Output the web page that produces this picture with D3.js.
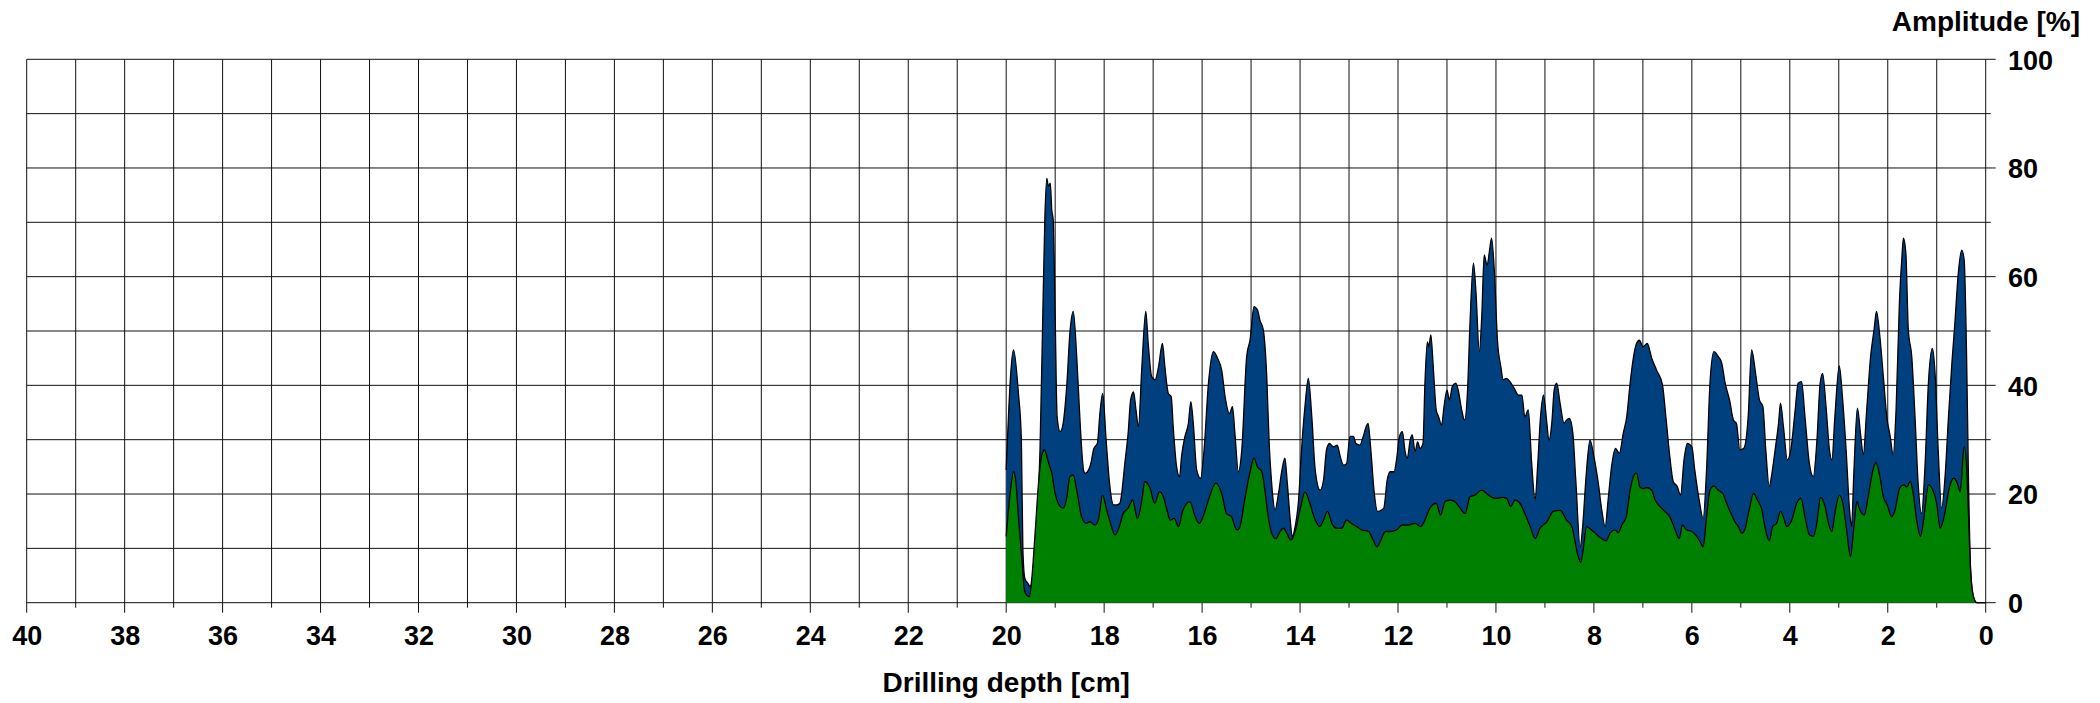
<!DOCTYPE html>
<html><head><meta charset="utf-8">
<script src="https://cdn.jsdelivr.net/npm/d3@7"></script>
<style>
html,body{margin:0;padding:0;background:#fff;}
svg{display:block;}
text{font-family:"Liberation Sans",Arial,sans-serif;font-weight:bold;fill:#000;}
</style>
</head><body>
<svg id="chart" width="2100" height="703"></svg>
<script>
// Total amplitude (blue)
const blueDepth = [20.00,19.85,19.75,19.69,19.66,19.62,19.56,19.51,19.45,19.38,19.31,19.26,19.21,19.17,19.14,19.10,19.07,19.04,19.00,18.96,18.90,18.85,18.76,18.70,18.63,18.56,18.49,18.42,18.39,18.32,18.27,18.21,18.14,18.08,18.03,17.96,17.89,17.81,17.74,17.68,17.57,17.51,17.46,17.40,17.35,17.30,17.23,17.15,17.10,17.03,16.96,16.89,16.81,16.76,16.69,16.63,16.59,16.52,16.46,16.42,16.35,16.28,16.23,16.18,16.11,16.03,15.96,15.87,15.77,15.67,15.60,15.53,15.44,15.38,15.33,15.26,15.19,15.09,15.02,
14.94,14.87,14.82,14.75,14.68,14.63,14.58,14.51,14.44,14.37,14.31,14.26,14.20,14.16,14.10,14.03,13.97,13.90,13.83,13.76,13.69,13.59,13.52,13.46,13.40,13.32,13.24,13.18,13.11,13.05,12.98,12.91,12.86,12.78,12.71,12.65,12.61,12.56,12.49,12.42,12.33,12.29,12.22,12.16,12.08,12.03,11.97,11.91,11.86,11.81,11.75,11.71,11.65,11.60,11.55,11.49,11.45,11.40,11.37,11.33,11.28,11.22,11.17,11.11,11.06,11.00,10.95,10.89,10.82,10.77,10.70,10.64,10.58,10.53,10.46,10.41,10.34,10.29,10.24,10.18,10.13,10.09,10.03,9.97,9.90,9.85,9.79,
9.63,9.54,9.47,9.41,9.34,9.27,9.20,9.15,9.09,9.03,8.96,8.92,8.86,8.81,8.76,8.69,8.61,8.56,8.50,8.43,8.37,8.28,8.23,8.16,8.08,8.00,7.91,7.84,7.77,7.71,7.64,7.56,7.48,7.40,7.33,7.26,7.19,7.13,7.07,7.00,6.91,6.82,6.72,6.60,6.53,6.45,6.38,6.30,6.23,6.16,6.09,6.00,5.94,5.85,5.77,5.70,5.63,5.55,5.46,5.39,5.32,5.23,5.15,5.09,5.02,4.94,4.85,4.78,
4.69,4.62,4.55,4.49,4.42,4.37,4.30,4.23,4.19,4.13,4.05,3.98,3.89,3.83,3.76,3.69,3.60,3.52,3.45,3.38,3.33,3.26,3.19,3.14,3.08,2.99,2.92,2.85,2.78,2.74,2.69,2.62,2.55,2.50,2.43,2.35,2.28,2.23,2.16,2.09,2.02,1.95,1.89,1.83,1.76,1.71,1.68,1.63,1.58,1.51,1.44,1.38,1.31,1.24,1.17,1.09,1.03,0.97,0.90,0.83,0.76,0.69,0.63,0.56,0.49,0.44,0.39,0.35,0.31,0.25,0.18,0.00];
const blueAmp = [24.4,46.5,38.5,30.0,10.0,4.5,3.6,3.0,5.5,14.0,28.1,49.6,71.0,78.1,76.6,77.2,72.3,70.4,52.6,34.2,31.5,32.4,40.4,49.6,53.6,45.3,33.0,24.4,23.8,24.4,25.7,28.4,29.3,35.5,38.5,30.0,22.0,18.0,18.0,18.3,26.3,31.2,37.3,38.8,35.5,32.4,43.4,53.6,47.7,41.6,41.0,43.4,47.7,43.4,38.5,37.9,32.4,25.0,23.2,26.9,30.6,33.0,37.0,33.0,24.4,22.9,28.1,40.4,46.2,44.7,42.8,37.9,34.8,36.1,31.2,24.1,28.1,45.3,48.4,
54.5,53.9,52.0,50.2,41.6,29.3,22.0,17.1,20.1,24.4,26.6,22.0,15.2,12.2,14.0,18.9,28.1,36.1,41.3,34.2,24.4,20.7,22.6,28.1,29.3,28.7,29.0,26.9,25.3,25.6,30.6,30.6,29.3,29.0,30.6,32.4,33.0,28.7,20.7,16.8,17.1,17.4,22.6,24.1,24.1,26.3,30.6,31.5,28.1,26.6,30.0,30.9,27.8,29.6,28.4,29.3,40.4,48.0,47.1,49.3,43.4,35.5,34.2,32.7,36.1,39.1,37.3,39.8,40.4,39.1,35.5,33.6,39.1,51.4,62.5,57.5,46.2,52.6,64.0,62.1,64.9,67.1,60.6,48.4,43.4,41.0,41.3,
39.5,38.2,38.2,34.2,35.5,25.6,18.9,25.0,34.2,38.2,33.0,29.9,33.0,39.2,40.4,36.7,33.0,33.6,33.9,31.2,22.6,10.3,14.0,23.2,29.9,26.9,22.0,17.1,14.0,18.9,25.0,28.4,27.5,31.2,34.2,40.4,45.3,47.7,48.3,47.1,47.7,45.0,42.8,40.1,34.2,26.9,22.3,21.4,19.8,26.3,29.3,28.7,24.4,18.9,15.5,24.4,40.4,46.2,45.3,44.1,40.4,37.3,33.6,33.0,28.1,28.4,34.2,46.5,
41.6,37.3,36.1,28.1,21.4,23.5,28.1,33.0,36.7,32.4,26.3,28.1,35.5,40.4,40.7,34.2,25.6,23.2,29.3,40.4,42.2,36.1,28.1,26.3,34.2,43.6,37.3,28.1,17.1,14.0,24.4,35.8,30.6,27.2,35.5,45.3,50.2,53.6,48.9,41.6,34.2,30.6,27.2,35.5,55.7,63.7,67.1,64.3,50.2,45.3,33.6,22.0,16.4,25.0,40.4,46.8,41.6,28.1,17.4,23.2,34.2,44.1,51.4,60.6,64.9,63.1,45.3,22.0,6.6,1.1,0.0,0.0];

// Lower amplitude (green)
const greenDepth = [20.00,19.92,19.85,19.80,19.75,19.68,19.62,19.53,19.48,19.41,19.34,19.28,19.22,19.14,19.07,19.00,18.94,18.83,18.76,18.70,18.63,18.56,18.46,18.37,18.29,18.19,18.12,18.03,17.95,17.87,17.78,17.69,17.61,17.51,17.42,17.32,17.23,17.17,17.06,16.97,16.87,16.79,16.72,16.65,16.57,16.48,16.40,16.25,16.14,16.06,15.97,15.87,15.72,15.60,15.50,15.40,15.29,15.24,15.12,15.02,
14.94,14.87,14.78,14.71,14.65,14.58,14.49,14.41,14.34,14.27,14.19,14.10,14.00,13.90,13.80,13.69,13.60,13.52,13.44,13.35,13.25,13.15,13.05,12.95,12.84,12.74,12.60,12.52,12.43,12.35,12.26,12.16,12.03,11.92,11.79,11.65,11.54,11.45,11.35,11.22,11.13,11.04,10.94,10.84,10.73,10.63,10.53,10.43,10.29,10.15,10.02,9.85,
9.78,9.70,9.61,9.51,9.41,9.30,9.20,9.10,8.96,8.83,8.69,8.56,8.45,8.39,8.33,8.27,8.22,8.15,8.05,7.94,7.84,7.75,7.67,7.57,7.50,7.43,7.34,7.26,7.18,7.13,7.06,6.99,6.92,6.82,6.75,6.65,6.55,6.45,6.34,6.26,6.19,6.11,6.00,5.90,5.83,5.77,5.70,5.63,5.55,5.46,5.37,5.29,5.20,5.12,5.05,4.98,4.92,4.83,4.74,
4.66,4.57,4.51,4.42,4.35,4.27,4.19,4.13,4.06,3.96,3.86,3.77,3.69,3.60,3.52,3.45,3.37,3.28,3.21,3.14,3.08,2.99,2.91,2.84,2.76,2.69,2.63,2.57,2.48,2.40,2.31,2.24,2.16,2.09,2.01,1.92,1.85,1.76,1.68,1.61,1.54,1.48,1.41,1.33,1.26,1.17,1.08,1.00,0.93,0.85,0.74,0.65,0.58,0.52,0.44,0.39,0.35,0.31,0.25,0.18,0.00];
const greenAmp = [12.2,20.1,24.1,22.0,15.8,7.9,2.0,1.1,4.2,12.8,22.0,26.9,28.1,25.9,23.8,20.1,18.3,17.4,19.5,23.2,23.5,20.7,15.8,14.6,14.9,14.3,15.2,19.8,17.1,14.6,12.5,14.0,16.4,17.4,18.9,15.5,18.9,22.3,21.0,18.3,20.4,19.5,17.1,15.2,15.5,14.0,16.8,18.6,15.8,14.6,16.1,18.9,22.0,20.1,16.4,15.8,13.4,13.7,19.5,24.1,
26.6,25.0,24.1,20.1,15.8,12.8,11.8,13.1,13.7,12.8,11.5,13.1,17.1,20.4,18.3,15.2,14.0,15.2,16.8,14.6,13.7,13.7,15.2,14.6,14.0,13.4,13.1,11.8,10.3,11.5,13.1,13.1,13.4,14.3,14.3,14.6,14.0,15.2,17.4,18.3,16.1,18.6,18.9,18.6,17.4,16.4,19.5,19.8,20.7,19.8,19.2,19.4,
19.2,17.7,18.9,18.3,16.4,14.0,11.8,13.7,14.9,16.8,17.0,15.2,14.0,11.5,8.8,7.4,9.7,14.0,13.4,12.5,11.8,11.4,12.8,13.4,12.9,14.3,15.8,20.7,23.5,23.9,21.3,21.0,21.2,20.7,18.9,17.7,16.8,15.8,13.4,11.8,14.3,13.4,13.1,12.2,11.2,10.3,15.8,20.7,21.5,20.7,20.1,18.3,16.4,14.9,14.0,12.8,13.4,17.1,20.1,
18.9,17.1,14.0,11.4,14.0,14.6,16.8,15.8,14.0,15.2,18.3,19.2,15.8,12.5,12.2,14.6,19.4,17.7,14.6,13.1,16.4,19.8,18.0,13.4,8.5,14.0,18.6,17.1,16.1,19.5,24.1,25.8,23.2,19.5,18.0,15.8,17.1,21.0,21.7,21.3,22.3,20.1,15.2,12.2,15.8,21.7,20.7,18.3,13.7,15.8,21.3,22.9,22.0,20.4,28.7,25.0,15.8,6.0,1.1,0.0,0.0];

const xTickLabels = [40,38,36,34,32,30,28,26,24,22,20,18,16,14,12,10,8,6,4,2,0];
const yTickLabels = [0,20,40,60,80,100];
const xTitle = "Drilling depth [cm]";
const yTitle = "Amplitude [%]";

const svg = d3.select("#chart");
const x = d3.scaleLinear().domain([40, 0]).range([26.7, 1985.7]);
const y = d3.scaleLinear().domain([0, 100]).range([602.7, 59.3]);

// grid + minor ticks
const grid = svg.append("g").attr("stroke", "#111").attr("stroke-width", 1);
d3.range(0, 41, 1).forEach(v => {
  grid.append("line").attr("x1", x(v)).attr("x2", x(v))
    .attr("y1", y(100)).attr("y2", y(0) + (v % 2 === 0 ? 10 : 5));
});
d3.range(0, 101, 10).forEach(v => {
  grid.append("line").attr("x1", x(40)).attr("x2", x(0) + (v % 20 === 0 ? 10 : 5))
    .attr("y1", y(v)).attr("y2", y(v));
});

// areas
function series(depths, amps) { return depths.map((d, i) => ({ d: d, v: amps[i] })); }
const area = d3.area().x(p => x(p.d)).y0(y(0)).y1(p => y(p.v)).curve(d3.curveMonotoneX);
const line = d3.line().x(p => x(p.d)).y(p => y(p.v)).curve(d3.curveMonotoneX);
const blue = series(blueDepth, blueAmp);
const green = series(greenDepth, greenAmp);
svg.append("path").datum(blue).attr("d", area).attr("fill", "#00407f");
svg.append("path").datum(blue).attr("d", line).attr("fill", "none").attr("stroke", "#000").attr("stroke-width", 1.3);
svg.append("path").datum(green).attr("d", area).attr("fill", "#008000");
svg.append("path").datum(green).attr("d", line).attr("fill", "none").attr("stroke", "#000").attr("stroke-width", 1.3);

// axes (labels)
const xAxis = svg.append("g").attr("transform", `translate(0,${y(0)})`)
  .call(d3.axisBottom(x).tickValues(xTickLabels).tickSize(0).tickFormat(d3.format("d")));
xAxis.select(".domain").remove();
xAxis.selectAll("text").attr("y", 42.5).attr("dy", null)
  .style("font-size", "27px").style("font-family", '"Liberation Sans", Arial, sans-serif').style("font-weight", "bold");

const yAxis = svg.append("g").attr("transform", `translate(${x(0)},0)`)
  .call(d3.axisRight(y).tickValues(yTickLabels).tickSize(0).tickFormat(d3.format("d")));
yAxis.select(".domain").remove();
yAxis.selectAll("text").attr("x", 22.3).attr("dy", "0.36em")
  .style("font-size", "27px").style("font-family", '"Liberation Sans", Arial, sans-serif').style("font-weight", "bold");

// titles
svg.append("text").attr("x", (x(40) + x(0)) / 2).attr("y", 691.5).attr("text-anchor", "middle")
  .style("font-size", "28px").text(xTitle);
svg.append("text").attr("x", 2080).attr("y", 31).attr("text-anchor", "end")
  .style("font-size", "28px").text(yTitle);
</script>
</body></html>
